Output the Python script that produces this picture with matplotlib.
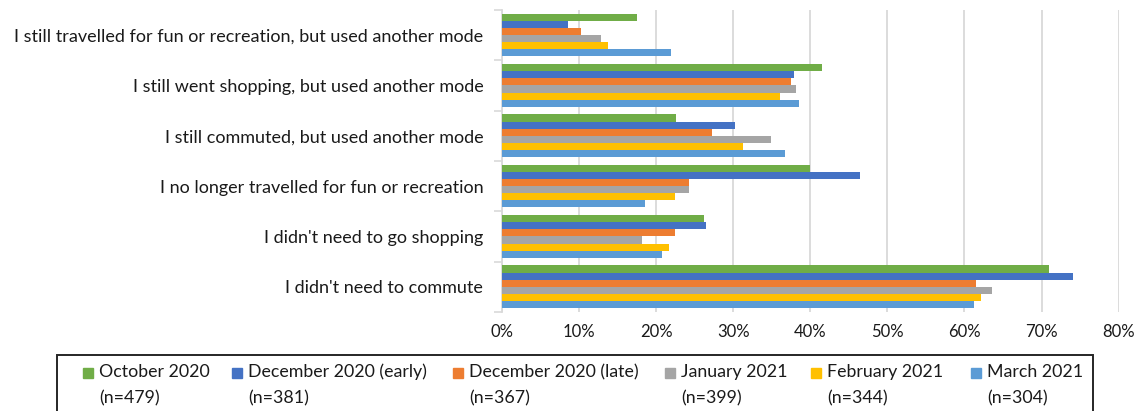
"""Grouped horizontal bar chart: reasons for not using the usual mode, by survey wave."""

import matplotlib
matplotlib.use("Agg")
import matplotlib.pyplot as plt
import matplotlib.patches as mpatches
from matplotlib.ticker import FixedLocator, PercentFormatter
import numpy as np

plt.rcParams["font.family"] = ["Lato", "DejaVu Sans"]

TEXT = "#1a1a1a"
GRID = "#d9d9d9"

categories = [
    "I still travelled for fun or recreation, but used another mode",
    "I still went shopping, but used another mode",
    "I still commuted, but used another mode",
    "I no longer travelled for fun or recreation",
    "I didn't need to go shopping",
    "I didn't need to commute",
]

wave_names = ["October 2020", "December 2020 (early)", "December 2020 (late)",
              "January 2021", "February 2021", "March 2021"]
wave_sizes = ["(n=479)", "(n=381)", "(n=367)", "(n=399)", "(n=344)", "(n=304)"]
wave_colors = ["#70AD47", "#4472C4", "#ED7D31", "#A5A5A5", "#FFC000", "#5B9BD5"]

# share of respondents, one list per survey wave (same order as categories)
oct_2020 = [0.175, 0.415, 0.226, 0.400, 0.262, 0.709]
dec_2020_early = [0.086, 0.379, 0.302, 0.464, 0.265, 0.741]
dec_2020_late = [0.102, 0.375, 0.273, 0.243, 0.224, 0.615]
jan_2021 = [0.128, 0.381, 0.349, 0.243, 0.182, 0.636]
feb_2021 = [0.137, 0.360, 0.312, 0.225, 0.217, 0.622]
mar_2021 = [0.219, 0.385, 0.367, 0.186, 0.208, 0.612]

series = [oct_2020, dec_2020_early, dec_2020_late, jan_2021, feb_2021, mar_2021]

W, H = 1135, 411
fig = plt.figure(figsize=(W / 100, H / 100), dpi=100)
ax = fig.add_axes([0.4423, 0.2409, 0.9856 - 0.4423, 0.9757 - 0.2409])

n = len(series)
bar_h = 1.0 / (n + 1.08)
y = np.arange(len(categories))
for i, (vals, col) in enumerate(zip(series, wave_colors)):
    offs = (i - (n - 1) / 2) * bar_h
    ax.barh(y + offs, vals, height=bar_h, color=col, zorder=3)

ax.set_ylim(len(categories) - 0.5, -0.5)
ax.set_xlim(0, 0.8)
ax.xaxis.set_major_locator(FixedLocator(np.arange(0, 0.81, 0.1)))
ax.xaxis.set_major_formatter(PercentFormatter(1.0, decimals=0))
ax.grid(axis="x", color=GRID, lw=1.3, zorder=0)
ax.set_axisbelow(True)

ax.set_yticks(y)
ax.set_yticklabels(categories)
ax.set_yticks(np.arange(-0.5, len(categories)), minor=True)
ax.tick_params(axis="y", which="major", length=0, pad=13.5, labelsize=13.0, colors=TEXT)
ax.tick_params(axis="y", which="minor", length=6, width=1.2, color=GRID)
ax.tick_params(axis="x", length=0, pad=8.5, labelsize=12, colors=TEXT)

for side in ("top", "right", "bottom"):
    ax.spines[side].set_visible(False)
ax.spines["left"].set_color(GRID)
ax.spines["left"].set_linewidth(1.3)

# legend frame runs off the bottom edge of the figure
frame = mpatches.Rectangle((57 / W, -0.1), (1093 - 57) / W, 0.1 + 1 - 355 / H,
                           transform=fig.transFigure, fill=False,
                           edgecolor="#262626", lw=1.4, clip_on=False)
fig.patches.append(frame)

marker_left = [83, 232, 453, 665, 811, 971]
for mx, name, size, col in zip(marker_left, wave_names, wave_sizes, wave_colors):
    fig.patches.append(mpatches.Rectangle((mx / W, 1 - 377.5 / H), 10 / W, 10 / H,
                                          transform=fig.transFigure, color=col))
    tx = (mx + 16) / W
    fig.text(tx, 1 - 372 / H, name, ha="left", va="center",
             fontsize=12.8, color=TEXT)
    fig.text(tx, 1 - 398 / H, size, ha="left", va="center",
             fontsize=12.8, color=TEXT)

fig.savefig("out.png", dpi=100)
